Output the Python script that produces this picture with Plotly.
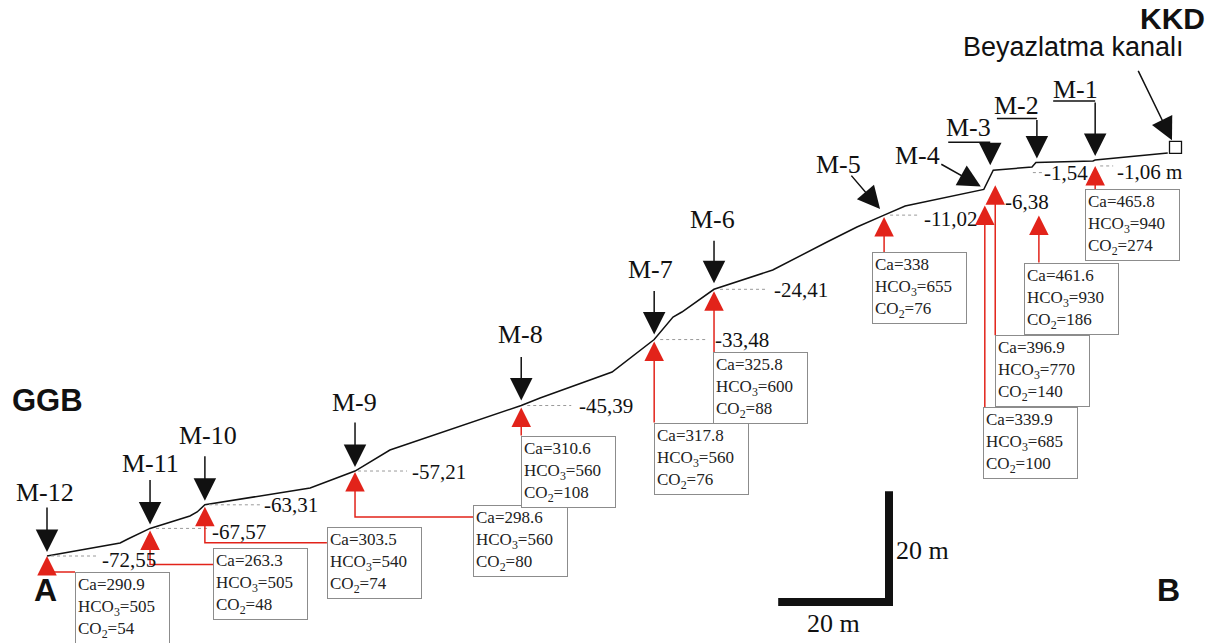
import plotly.graph_objects as go

# ---------------- data ----------------
stations = ["M-12", "M-11", "M-10", "M-9", "M-8", "M-7", "M-6", "M-5", "M-4", "M-3", "M-2", "M-1"]
distance_m = [0.0, 18.6, 28.5, 55.6, 85.6, 109.6, 120.4, 151.1, 169.1, 170.8, 178.5, 189.2]
elevation_m = [-72.55, -67.57, -63.31, -57.21, -45.39, -33.48, -24.41, -11.02, -6.38, -2.90, -1.54, -1.06]
elevation_labels = ["-72,55", "-67,57", "-63,31", "-57,21", "-45,39", "-33,48", "-24,41",
                    "-11,02", "-6,38", "", "-1,54", "-1,06 m"]
ca = [290.9, 263.3, 303.5, 298.6, 310.6, 317.8, 325.8, 338, 339.9, 396.9, 461.6, 465.8]
hco3 = [505, 505, 540, 560, 560, 560, 600, 655, 685, 770, 930, 940]
co2 = [54, 48, 74, 80, 108, 76, 88, 76, 100, 140, 186, 274]

profile_distance_m = [0.0, 13.2, 14.6, 18.6, 25.8, 27.1, 28.5, 47.5, 55.6, 61.9, 85.6, 89.0, 102.0,
                      109.6, 113.0, 114.6, 120.4, 131.0, 140.8, 146.2, 151.1, 154.9, 169.1, 170.8,
                      177.8, 178.5, 188.8, 189.2, 202.3]
profile_elevation_m = [-72.55, -70.20, -69.48, -67.57, -65.33, -64.61, -63.31, -60.27, -57.21, -53.42,
                       -45.39, -44.03, -39.34, -33.48, -29.41, -28.51, -24.41, -20.93, -15.87, -13.16,
                       -11.02, -9.37, -6.38, -2.90, -2.35, -1.54, -1.25, -1.06, 0.19]
channel_distance_m = [203.7]
channel_elevation_m = [1.2]
scale_bar_m = 20

# ---------------- layout helpers (pixel offsets, styles) ----------------
W, H = 1205, 643
K = 5.54            # pixels per metre (same on both axes)
X0_PX, Y0_PX = 47, 556   # pixel position of the first station
x_range = [-X0_PX / K, (W - X0_PX) / K]
y_range = [elevation_m[0] - (H - Y0_PX) / K, elevation_m[0] + Y0_PX / K]

def off(d, e, dx, dy):
    return d + dx / K, e - dy / K

SERIF = "Liberation Serif, Times New Roman, serif"
SANS = "Liberation Sans, Arial, sans-serif"
RED = "#e2231a"
BLACK = "#111111"

# station label centre offsets (px, y down)
label_off = [(-2, -64), (0, -65), (3, -69), (-1, -69), (-1, -71), (-4, -70), (-2, -70),
             (-46, -51), (-66, -34), (-25, -43), (-19, -57), (-20, -70)]
# black arrow tail / tip offsets
arrow_tail = [(0, -50), (0, -50), (0, -50), (0, -50), (0, -50), (0, -50), (0, -50),
              (-34, -41), (-44, -26), (-3, -28), (1, -44), (0, -59)]
arrow_tip = [(0, -4), (0, -4), (0, -4), (0, -4), (0, -5), (0, -5), (0, -6),
             (-4, -6), (-3, -3), (-3, -5), (1, -4), (0, -4)]
underline = {9: (-45, -3, -28), 10: (-39, 1, -44), 11: (-42, 0, -59)}
# elevation label offsets (left x, centre y)
elev_off = [(53, 4), (60, 4), (57, 0), (55, 1), (56, 0), (59, 0), (58, 1), (38, 4),
            (19, 13), (0, 0), (6, 10), (20, 12)]
leader = [(4, 50, 0), (6, 57, 0), (4, 55, 0), (3, 52, 0), (6, 50, 0), (6, 53, 0), (6, 53, 0),
          (6, 35, 0), None, None, (-3, 6, 10), (5, 18, 6)]
# red triangle tip offsets
tri_off = [(0, 0), (0, 2), (0, 2), (0, 1), (0, 2), (0, 2), (0, 2), (0, 2), (1, 16), (2, 15), (3, 53), (0, 6)]
# red connector paths
red_path = [
    [(0, 16), (28, 16)],
    [(0, 19), (0, 36), (63, 36)],
    [(0, 19), (0, 38), (122, 38)],
    [(0, 18), (0, 46), (118, 46)],
    [(0, 19), (0, 30)],
    [(0, 19), (0, 83)],
    [(0, 19), (0, 63)],
    [(0, 19), (0, 37)],
    [(1, 33), (1, 218)],
    [(2, 32), (2, 165)],
    [(3, 70), (3, 100)],
    [(0, 23), (0, 29)],
]
# chemistry box top-left offsets
box_off = [(28, 16), (63, 20), (122, 22), (118, 34), (0, 30), (0, 83), (-1, 63), (-12, 37),
           (-1, 218), (2, 165), (-12, 100), (-10, 29)]

fig = go.Figure()
ann = []

# ground profile
fig.add_trace(go.Scatter(x=profile_distance_m, y=profile_elevation_m, mode="lines",
                         line=dict(color=BLACK, width=1.5), hoverinfo="skip"))

# channel (open square)
fig.add_trace(go.Scatter(x=channel_distance_m, y=channel_elevation_m, mode="markers",
                         marker=dict(symbol="square-open", size=12, color=BLACK, line=dict(width=1.3)),
                         hoverinfo="skip"))

for i, name in enumerate(stations):
    d, e = distance_m[i], elevation_m[i]

    # leader dotted line
    if leader[i] is not None:
        a, b, dy = leader[i]
        x1, y1 = off(d, e, a, dy)
        x2, y2 = off(d, e, b, dy)
        fig.add_trace(go.Scatter(x=[x1, x2], y=[y1, y2], mode="lines",
                                 line=dict(color="#9a9a9a", width=1, dash="dot"), hoverinfo="skip"))

    # red connector
    xs, ys = zip(*[off(d, e, px, py) for px, py in red_path[i]])
    fig.add_trace(go.Scatter(x=list(xs), y=list(ys), mode="lines",
                             line=dict(color=RED, width=1.5), hoverinfo="skip"))

    # red triangle
    tx, ty = off(d, e, *tri_off[i])
    ann.append(dict(x=tx, y=ty, xref="x", yref="y", ax=0, ay=19, text="", showarrow=True,
                    arrowhead=2, arrowsize=2.6, arrowwidth=1.5, arrowcolor=RED, standoff=0))

    # black arrow
    hx, hy = off(d, e, *arrow_tip[i])
    tdx = arrow_tail[i][0] - arrow_tip[i][0]
    tdy = arrow_tail[i][1] - arrow_tip[i][1]
    ann.append(dict(x=hx, y=hy, xref="x", yref="y", ax=tdx, ay=tdy, text="", showarrow=True,
                    arrowhead=2, arrowsize=3.0, arrowwidth=1.5, arrowcolor=BLACK, standoff=0))

    # underline for M-3, M-2, M-1
    if i in underline:
        a, b, dy = underline[i]
        x1, y1 = off(d, e, a, dy)
        x2, y2 = off(d, e, b, dy)
        fig.add_trace(go.Scatter(x=[x1, x2], y=[y1, y2], mode="lines",
                                 line=dict(color=BLACK, width=1.5), hoverinfo="skip"))

    # station label
    lx, ly = off(d, e, *label_off[i])
    ann.append(dict(x=lx, y=ly, xref="x", yref="y", text=name, showarrow=False,
                    xanchor="center", yanchor="middle", font=dict(family=SERIF, size=26, color=BLACK)))

    # elevation label
    if elevation_labels[i]:
        ex, ey = off(d, e, *elev_off[i])
        ann.append(dict(x=ex, y=ey, xref="x", yref="y", text=elevation_labels[i], showarrow=False,
                        xanchor="left", yanchor="middle", font=dict(family=SERIF, size=21, color=BLACK)))

    # chemistry box
    bx, by = off(d, e, *box_off[i])
    txt = f"Ca={ca[i]:g}<br>HCO<sub>3</sub>={hco3[i]}<br>CO<sub>2</sub>={co2[i]}"
    ann.append(dict(x=bx, y=by, xref="x", yref="y", text=txt, showarrow=False,
                    xanchor="left", yanchor="top", align="left", width=89, borderpad=2,
                    bordercolor="#8c8c8c", borderwidth=1, bgcolor="white",
                    font=dict(family=SERIF, size=17, color="#222222")))

# scale bar (20 m x 20 m) anchored at its corner
cx, cy = off(distance_m[0], elevation_m[0], 889 - X0_PX, 602 - Y0_PX)
fig.add_trace(go.Scatter(x=[cx - scale_bar_m, cx, cx], y=[cy, cy, cy + scale_bar_m], mode="lines",
                         line=dict(color=BLACK, width=8), hoverinfo="skip"))
ann.append(dict(x=cx, y=cy + scale_bar_m / 2, xref="x", yref="y", text="20 m", showarrow=False,
                xanchor="left", yanchor="middle", xshift=5, yshift=-4,
                font=dict(family=SERIF, size=26, color=BLACK)))
ann.append(dict(x=cx - scale_bar_m / 2, y=cy, xref="x", yref="y", text="20 m", showarrow=False,
                xanchor="center", yanchor="top", yshift=-5,
                font=dict(family=SERIF, size=26, color=BLACK)))

# end labels
ann.append(dict(x=47 / W, y=1 - 400 / H, xref="paper", yref="paper", text="<b>GGB</b>", showarrow=False,
                xanchor="center", yanchor="middle", font=dict(family=SANS, size=31, color=BLACK)))
ann.append(dict(x=45 / W, y=1 - 590 / H, xref="paper", yref="paper", text="<b>A</b>", showarrow=False,
                xanchor="center", yanchor="middle", font=dict(family=SANS, size=32, color=BLACK)))
ann.append(dict(x=1168 / W, y=1 - 590 / H, xref="paper", yref="paper", text="<b>B</b>", showarrow=False,
                xanchor="center", yanchor="middle", font=dict(family=SANS, size=32, color=BLACK)))
ann.append(dict(x=1172 / W, y=1 - 18 / H, xref="paper", yref="paper", text="<b>KKD</b>", showarrow=False,
                xanchor="center", yanchor="middle", font=dict(family=SANS, size=30, color=BLACK)))
ann.append(dict(x=1073 / W, y=1 - 47 / H, xref="paper", yref="paper", text="Beyazlatma kanalı",
                showarrow=False, xanchor="center", yanchor="middle",
                font=dict(family=SANS, size=27, color=BLACK)))
# arrow to the channel
ann.append(dict(x=channel_distance_m[0], y=channel_elevation_m[0], xref="x", yref="y",
                ax=-38, ay=-78, text="", showarrow=True, standoff=8,
                arrowhead=2, arrowsize=3.0, arrowwidth=1.5, arrowcolor=BLACK))

fig.update_layout(
    width=W, height=H, margin=dict(l=0, r=0, t=0, b=0),
    paper_bgcolor="white", plot_bgcolor="white", showlegend=False,
    xaxis=dict(range=x_range, visible=False, fixedrange=True),
    yaxis=dict(range=y_range, visible=False, fixedrange=True),
    annotations=ann,
)

fig.write_html("out.html", config={"displayModeBar": False},
               post_script="document.body.style.margin='0';document.body.style.overflow='hidden';")
